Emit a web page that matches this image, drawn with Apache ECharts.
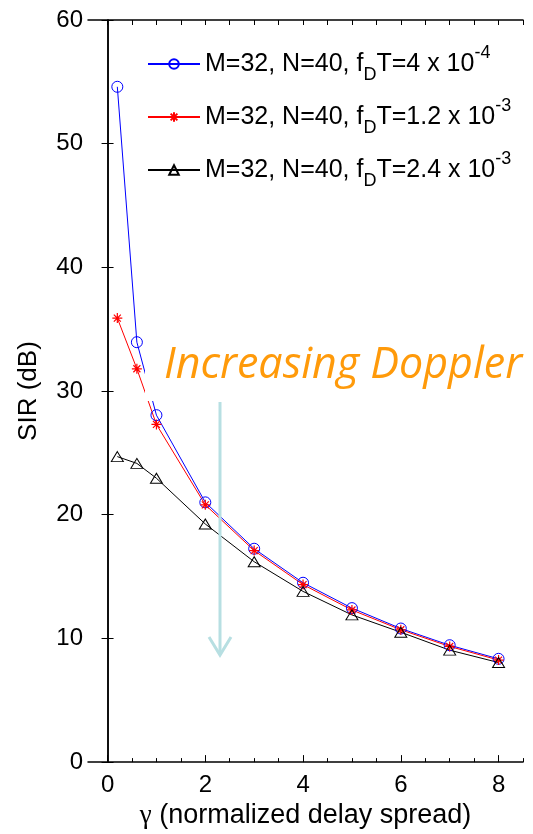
<!DOCTYPE html>
<html><head><meta charset="utf-8">
<script src="https://cdn.jsdelivr.net/npm/echarts@6/dist/echarts.min.js"></script>
<style>html,body{margin:0;padding:0;background:#fff}#c{width:533px;height:834px}</style>
</head><body><div id="c"></div>
<script>
const gamma = [0.2, 0.6, 1, 2, 3, 4, 5, 6, 7, 8];
const sirLowDoppler = [54.6, 33.95, 28.05, 21.0, 17.25, 14.5, 12.45, 10.8, 9.45, 8.35];
const sirMidDoppler = [35.9, 31.8, 27.3, 20.8, 17.1, 14.35, 12.3, 10.7, 9.35, 8.25];
const sirHighDoppler = [24.7, 24.15, 22.95, 19.25, 16.2, 13.8, 11.9, 10.5, 9.05, 8.05];
const seriesNames = ['M=32, N=40, fDT=4 x 10^-4', 'M=32, N=40, fDT=1.2 x 10^-3', 'M=32, N=40, fDT=2.4 x 10^-3'];
const legendRich = ['M=32, N=40, f{sub|D}T=4 x 10{sup|-4}', 'M=32, N=40, f{sub|D}T=1.2 x 10{sup|-3}', 'M=32, N=40, f{sub|D}T=2.4 x 10{sup|-3}'];
const xLabelValues = [0, 2, 4, 6, 8];
const xMinorTickValues = [0, 0.5, 1, 1.5, 2, 2.5, 3, 3.5, 4, 4.5, 5, 5.5, 6, 6.5, 7, 7.5, 8, 8.5];
const xTitle = '{g|γ} (normalized delay spread)';
const yTitle = 'SIR (dB)';
const annotation = 'Increasing Doppler';

const FONT = 'Liberation Sans, Arial, sans-serif';
const chart = echarts.init(document.getElementById('c'), null, {renderer: 'canvas'});
const pair = (ys) => gamma.map((g, i) => [g, ys[i]]);
const axisLine = {show: true, lineStyle: {color: '#000', width: 1.5}};

const option = {
  animation: false,
  backgroundColor: '#fff',
  grid: {left: 88, right: 10, top: 20, bottom: 69, containLabel: false},
  xAxis: [
    {type: 'value', position: 'bottom', min: -0.4, max: 8.5, axisLine,
     splitLine: {show: false},
     axisTick: {show: true, inside: true, length: 7, customValues: xLabelValues, lineStyle: {color: '#000'}},
     axisLabel: {customValues: xLabelValues, fontFamily: FONT, fontSize: 24, color: '#000', margin: 11},
     name: xTitle, nameLocation: 'middle', nameGap: 36,
     nameTextStyle: {fontFamily: FONT, fontSize: 27, color: '#000',
       rich: {g: {fontFamily: 'Liberation Serif, DejaVu Serif, serif', fontSize: 27, color: '#000'}}}},
    {type: 'value', position: 'bottom', min: -0.4, max: 8.5, axisLine: {show: false},
     splitLine: {show: false}, axisLabel: {show: false},
     axisTick: {show: true, inside: true, length: 4, customValues: xMinorTickValues, lineStyle: {color: '#000'}}},
    {type: 'value', position: 'top', min: -0.4, max: 8.5, axisLine,
     splitLine: {show: false}, axisLabel: {show: false},
     axisTick: {show: true, inside: true, length: 5, customValues: xMinorTickValues, lineStyle: {color: '#000'}}}
  ],
  yAxis: [
    {type: 'value', position: 'left', min: 0, max: 60, interval: 10, axisLine,
     splitLine: {show: false},
     axisTick: {show: true, inside: true, length: 6, lineStyle: {color: '#000'}},
     axisLabel: {fontFamily: FONT, fontSize: 24, color: '#000', margin: 5},
     name: yTitle, nameLocation: 'middle', nameGap: 46, nameRotate: 90,
     nameTextStyle: {fontFamily: FONT, fontSize: 26, color: '#000'}},
    {type: 'value', position: 'right', min: 0, max: 60, interval: 10, axisLine,
     splitLine: {show: false}, axisLabel: {show: false},
     axisTick: {show: true, inside: true, length: 6, lineStyle: {color: '#000'}}}
  ],
  legend: {
    orient: 'vertical', left: 147, top: 44, padding: 0, itemWidth: 52, itemHeight: 12, itemGap: 13,
    data: seriesNames,
    formatter: (name) => legendRich[seriesNames.indexOf(name)],
    textStyle: {fontFamily: FONT, fontSize: 25, color: '#000', lineHeight: 40,
      rich: {
        sub: {fontFamily: FONT, fontSize: 18, color: '#000', lineHeight: 10, verticalAlign: 'bottom'},
        sup: {fontFamily: FONT, fontSize: 18, color: '#000', lineHeight: 26, verticalAlign: 'top'}
      }}
  },
  series: [
    {name: seriesNames[0], type: 'line', data: pair(sirLowDoppler), xAxisIndex: 0, yAxisIndex: 0,
     symbol: 'circle', symbolSize: 11, color: '#0000ff',
     lineStyle: {color: '#0000ff', width: 1},
     itemStyle: {color: 'rgba(0,0,0,0)', borderColor: '#0000ff', borderWidth: 1}},
    {name: seriesNames[1], type: 'line', data: pair(sirMidDoppler), xAxisIndex: 0, yAxisIndex: 0,
     symbol: 'path://M0,-10L0,10M-10,0L10,0M-7,-7L7,7M-7,7L7,-7', symbolSize: 10, color: '#ff0000',
     lineStyle: {color: '#ff0000', width: 1},
     itemStyle: {color: 'rgba(0,0,0,0)', borderColor: '#ff0000', borderWidth: 1.2}},
    {name: seriesNames[2], type: 'line', data: pair(sirHighDoppler), xAxisIndex: 0, yAxisIndex: 0,
     symbol: 'triangle', symbolSize: [12, 10], color: '#000',
     lineStyle: {color: '#000', width: 1},
     itemStyle: {color: 'rgba(0,0,0,0)', borderColor: '#000', borderWidth: 1}}
  ],
  graphic: [
    {type: 'rect', z: 100, shape: {x: 145, y: 323, width: 388, height: 78}, style: {fill: '#fff'}},
    {type: 'text', z: 101, x: 164, y: 366, style: {text: annotation, fontFamily: 'Open Sans, sans-serif',
      fontStyle: 'italic', fontSize: 43, fill: '#ff9a0a', verticalAlign: 'middle', align: 'left'}},
    {type: 'line', z: 101, shape: {x1: 220, y1: 402, x2: 220, y2: 654}, style: {stroke: '#b7dfe2', lineWidth: 3}},
    {type: 'polyline', z: 101, shape: {points: [[209, 637], [220, 655], [231, 637]]}, style: {stroke: '#b7dfe2', lineWidth: 3, fill: null}}
  ]
};
chart.setOption(option);
</script></body></html>
